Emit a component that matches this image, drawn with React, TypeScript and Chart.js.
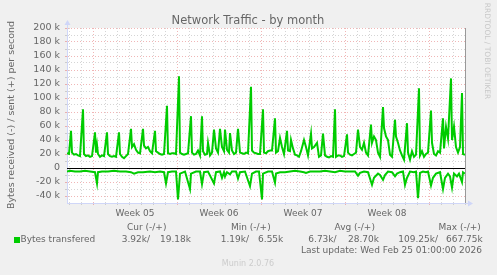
import React, { useEffect, useRef } from "react";
import { Chart, registerables } from "chart.js";

Chart.register(...registerables);

// ---- Data (hours since start of graph, values in k bytes/s) ----
const HOURS_SENT = [0,4,8,10,14,18,22,26,32,34,38,42,46,50,56,58,60,62,66,70,74,80,82,86,90,94,98,104,106,110,114,118,122,128,130,134,138,142,146,152,154,158,162,166,170,176,178,182,186,190,194,200,202,206,210,214,218,224,226,230,234,238,242,248,250,254,258,262,266,270,272,276,280,282,286,290,294,298,302,306,310,314,316,320,324,326,330,334,338,342,346,350,354,358,362,368,370,374,378,382,386,392,394,398,402,406,410,416,418,422,426,430,434,440,442,446,448,452,456,460,464,468,474,478,482,488,490,494,500,504,508,512,516,520,524,528,532,536,538,542,546,550,554,560,562,566,570,574,578,582,586,590,594,598,602,608,610,614,618,622,626,632,634,638,642,646,650,656,658,662,666,670,674,680,682,686,690,694,698,704,706,710,714,718,722,728,730,734,738,742,746,752,754,758,762,768,770,774,778,782,786,790,792,796];
const SENT_K = [21,20,53,22,19,20,18,17,84,20,17,18,16,17,51,22,33,20,16,18,17,51,20,17,16,17,16,51,20,16,14,17,20,56,30,34,26,22,21,56,32,28,30,24,21,53,24,22,20,19,20,89,21,20,21,21,20,131,22,20,19,20,21,74,22,19,20,25,18,74,24,19,20,36,18,22,55,28,22,56,30,24,55,26,22,50,25,20,22,56,22,21,20,22,21,116,25,22,21,20,20,84,22,21,24,25,25,71,22,24,43,30,20,53,25,24,40,28,19,18,16,24,40,30,18,49,28,30,36,16,18,49,18,16,15,17,16,84,16,18,18,16,17,48,22,19,18,20,22,55,30,26,36,22,18,62,36,45,40,22,16,87,57,45,40,19,16,69,45,36,25,18,12,64,22,12,24,16,19,114,18,24,16,20,22,82,36,20,18,24,22,71,28,59,42,128,40,59,30,22,30,107,20,19];

const HOURS_RECV = [0,6,16,26,36,46,56,60,62,70,82,94,106,118,128,134,142,152,166,176,186,194,198,202,210,218,222,226,236,246,248,258,266,270,274,282,294,298,306,310,314,316,320,326,330,338,342,346,356,366,370,378,384,390,392,402,410,416,418,426,436,446,456,466,474,478,486,496,506,516,526,536,546,556,566,576,582,586,594,602,610,614,622,626,632,636,642,650,656,660,666,672,676,680,686,694,698,702,706,712,718,722,728,732,738,746,752,756,762,766,770,774,780,784,790,792,796];
const RECV_K = [-5,-4,-5,-5,-4,-5,-6,-22,-6,-5,-5,-4,-5,-5,-6,-8,-6,-6,-5,-6,-5,-6,-22,-6,-5,-5,-45,-8,-5,-30,-8,-5,-5,-23,-6,-5,-22,-6,-5,-14,-6,-12,-6,-9,-5,-5,-15,-6,-5,-26,-8,-5,-5,-45,-8,-5,-5,-21,-8,-6,-6,-5,-4,-5,-6,-7,-5,-5,-5,-4,-5,-6,-4,-5,-5,-5,-11,-7,-5,-6,-24,-14,-8,-10,-17,-10,-5,-6,-12,-8,-6,-5,-24,-14,-5,-6,-5,-43,-7,-5,-6,-5,-25,-14,-8,-6,-30,-14,-8,-12,-28,-8,-12,-8,-20,-6,-8];

const WEEK_LABELS = ["Week 05", "Week 06", "Week 07", "Week 08"];
const LEGEND_HEADERS = ["Cur (-/+)", "Min (-/+)", "Avg (-/+)", "Max (-/+)"];
const LEGEND_RECV = ["3.92k/", "1.19k/", "6.73k/", "109.25k/"];
const LEGEND_SENT = ["19.18k", "6.55k", "28.70k", "667.75k"];

const SPAN_HOURS = 796;
const FIRST_DAY_LINE = 4;
const FIRST_WEEK_LINE = 52;

const FONT = '"DejaVu Sans", Verdana, sans-serif';
const TEXT = "#666666";
const AXIS = "#CFD6F8";
const GREEN = "#00CC00";
const MGRID = "rgba(226,110,110,0.5)";
const GRID = "rgba(150,150,150,0.4)";

const decor = {
  id: "munin-decor",
  beforeDraw(chart: any) {
    const { ctx, chartArea: a } = chart;
    ctx.save();
    ctx.fillStyle = "#F0F0F0";
    ctx.fillRect(0, 0, chart.width, chart.height);
    ctx.fillStyle = "#FFFFFF";
    ctx.fillRect(a.left, a.top, a.right - a.left, a.bottom - a.top);
    ctx.restore();
  },
  beforeDatasetsDraw(chart: any) {
    const { ctx, chartArea: a, scales } = chart;
    const y0 = Math.round(scales.y.getPixelForValue(0)) + 0.5;
    ctx.save();
    ctx.strokeStyle = "#000000";
    ctx.lineWidth = 1;
    ctx.beginPath();
    ctx.moveTo(a.left, y0);
    ctx.lineTo(a.right, y0);
    ctx.stroke();
    ctx.restore();
  },
  afterDraw(chart: any) {
    const { ctx, chartArea: a } = chart;
    ctx.save();
    // right frame line
    ctx.strokeStyle = "#999999";
    ctx.lineWidth = 1;
    ctx.beginPath();
    ctx.moveTo(Math.round(a.right) + 0.5, a.top);
    ctx.lineTo(Math.round(a.right) + 0.5, a.bottom);
    ctx.stroke();
    // axis arrows
    ctx.strokeStyle = AXIS;
    ctx.fillStyle = AXIS;
    const lx = Math.round(a.left) + 0.5;
    ctx.beginPath();
    ctx.moveTo(lx, a.top);
    ctx.lineTo(lx, a.top - 4);
    ctx.stroke();
    ctx.beginPath();
    ctx.moveTo(lx - 3, a.top - 3);
    ctx.lineTo(lx + 3, a.top - 3);
    ctx.lineTo(lx, a.top - 8);
    ctx.closePath();
    ctx.fill();
    const by = Math.round(a.bottom) + 0.5;
    ctx.beginPath();
    ctx.moveTo(a.right, by);
    ctx.lineTo(a.right + 4, by);
    ctx.stroke();
    ctx.beginPath();
    ctx.moveTo(a.right + 3, by - 3);
    ctx.lineTo(a.right + 3, by + 3);
    ctx.lineTo(a.right + 8, by);
    ctx.closePath();
    ctx.fill();

    // title
    ctx.fillStyle = TEXT;
    ctx.textBaseline = "middle";
    ctx.textAlign = "center";
    ctx.font = `11.5px ${FONT}`;
    ctx.fillText("Network Traffic - by month", 248, 21);

    // vertical axis title
    ctx.save();
    ctx.translate(12, 115);
    ctx.rotate(-Math.PI / 2);
    ctx.font = `9.5px ${FONT}`;
    ctx.fillText("Bytes received (-) / sent (+) per second", 0, 0);
    ctx.restore();

    // rrdtool watermark
    ctx.save();
    ctx.translate(487, 51);
    ctx.rotate(Math.PI / 2);
    ctx.fillStyle = "#C8C8C8";
    ctx.font = `7.5px ${FONT}`;
    ctx.fillText("RRDTOOL / TOBI OETIKER", 0, 0);
    ctx.restore();

    // legend
    ctx.font = `9px ${FONT}`;
    ctx.fillStyle = GREEN;
    ctx.fillRect(14, 237, 6, 6);
    ctx.fillStyle = TEXT;
    ctx.textAlign = "left";
    ctx.fillText("Bytes transfered", 20.5, 240);
    const headerCenters = [146.7, 250.8, 354.7, 459.7];
    const recvLeft = [121.7, 220.7, 308.3, 398.3];
    const sentRight = [191, 283.3, 379, 482.7];
    ctx.textAlign = "center";
    LEGEND_HEADERS.forEach((h, i) => ctx.fillText(h, headerCenters[i], 228));
    ctx.textAlign = "left";
    LEGEND_RECV.forEach((t, i) => ctx.fillText(t, recvLeft[i], 240));
    ctx.textAlign = "right";
    LEGEND_SENT.forEach((t, i) => ctx.fillText(t, sentRight[i], 240));
    ctx.fillText("Last update: Wed Feb 25 01:00:00 2026", 482, 251);
    ctx.textAlign = "center";
    ctx.fillStyle = "#CCCCCC";
    ctx.font = `8px ${FONT}`;
    ctx.fillText("Munin 2.0.76", 248, 263.5);
    ctx.restore();
  },
};

export default function App() {
  const ref = useRef<HTMLCanvasElement | null>(null);

  useEffect(() => {
    document.body.style.margin = "0";
    const canvas = ref.current;
    if (!canvas) return;

    const sent = HOURS_SENT.map((h, i) => ({ x: h, y: SENT_K[i] }));
    const recv = HOURS_RECV.map((h, i) => ({ x: h, y: RECV_K[i] }));

    const chart = new Chart(canvas, {
      type: "line",
      data: {
        datasets: [
          { label: "sent", data: sent, borderColor: GREEN, backgroundColor: GREEN, borderWidth: 2, pointRadius: 0, tension: 0 },
          { label: "received", data: recv, borderColor: GREEN, backgroundColor: GREEN, borderWidth: 2, pointRadius: 0, tension: 0 },
        ],
      },
      options: {
        animation: false,
        responsive: false,
        devicePixelRatio: 1,
        events: [],
        layout: { padding: { left: 0, top: 28, right: 32, bottom: 0 } },
        plugins: { legend: { display: false }, tooltip: { enabled: false }, title: { display: false } },
        scales: {
          x: {
            type: "linear",
            min: 0,
            max: SPAN_HOURS,
            afterBuildTicks: (scale: any) => {
              const ticks = [];
              for (let t = FIRST_DAY_LINE; t <= SPAN_HOURS; t += 12) ticks.push({ value: t });
              scale.ticks = ticks;
            },
            afterFit: (scale: any) => {
              scale.height = 72;
            },
            ticks: {
              autoSkip: false,
              maxRotation: 0,
              minRotation: 0,
              padding: 3,
              color: TEXT,
              font: { family: FONT, size: 9 },
              callback: (v: any) => {
                const k = (Number(v) - FIRST_WEEK_LINE - 84) / 168;
                return Number.isInteger(k) && k >= 0 && k < WEEK_LABELS.length ? WEEK_LABELS[k] : "";
              },
            },
            grid: {
              drawTicks: true,
              tickLength: 2,
              lineWidth: 1,
              color: (c: any) => {
                const v = c.tick ? c.tick.value : null;
                if (v == null) return "transparent";
                if ((v - FIRST_WEEK_LINE) % 168 === 0) return MGRID;
                if ((v - FIRST_DAY_LINE) % 24 === 0) return GRID;
                return "transparent";
              },
            },
            border: { display: true, color: AXIS, width: 1, dash: [1, 2] },
          },
          y: {
            min: -50,
            max: 200,
            afterBuildTicks: (scale: any) => {
              const ticks = [];
              for (let v = -50; v <= 200; v += 10) ticks.push({ value: v });
              scale.ticks = ticks;
            },
            afterFit: (scale: any) => {
              scale.width = 67;
            },
            ticks: {
              autoSkip: false,
              padding: 5,
              color: TEXT,
              font: { family: FONT, size: 9.5 },
              callback: (v: any) => {
                const n = Number(v);
                if (n % 20 !== 0) return "";
                return n === 0 ? "0" : `${n} k`;
              },
            },
            grid: {
              drawTicks: true,
              tickLength: 2,
              lineWidth: 1,
              color: (c: any) => {
                const v = c.tick ? c.tick.value : null;
                if (v == null || v === -50 || v === 0) return "transparent";
                return v % 20 === 0 ? MGRID : GRID;
              },
            },
            border: { display: true, color: AXIS, width: 1, dash: [1, 2] },
          },
        },
      },
      plugins: [decor],
    });

    return () => chart.destroy();
  }, []);

  return (
    <div style={{ position: "absolute", left: 0, top: 0, width: 497, height: 275 }}>
      <canvas ref={ref} width={497} height={275} style={{ display: "block", width: 497, height: 275 }} />
    </div>
  );
}
